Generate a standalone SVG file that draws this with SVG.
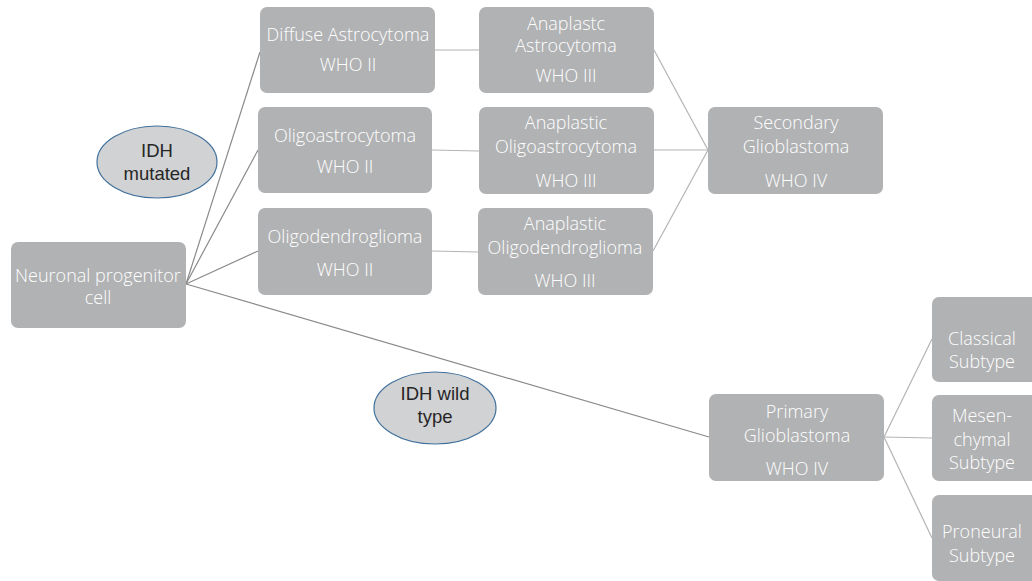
<svg xmlns="http://www.w3.org/2000/svg" width="1032" height="581" viewBox="0 0 1032 581">
<style>
.box{fill:#B1B2B4;}
.t{font-family:"Open Sans","Liberation Sans",sans-serif;font-size:18px;fill:#ffffff;text-anchor:middle;font-weight:300;}
.ell{fill:#D1D2D4;stroke:#41719C;stroke-width:1.2;}
.et{font-family:"Liberation Sans",Arial,sans-serif;font-size:18.5px;fill:#262626;text-anchor:middle;}
.c1{stroke:#8a8a8a;stroke-width:1.2;fill:none;}
.c2{stroke:#B4B4B4;stroke-width:1.2;fill:none;}
</style>
<rect width="1032" height="581" fill="#ffffff"/>
<g id="connectors">
<line class="c1" x1="186" y1="284" x2="260" y2="52"/>
<line class="c1" x1="186" y1="284" x2="258" y2="150"/>
<line class="c1" x1="186" y1="284" x2="258" y2="251"/>
<line class="c1" x1="186" y1="284" x2="709" y2="437"/>
<line class="c2" x1="435" y1="50" x2="479" y2="50"/>
<line class="c2" x1="432" y1="150" x2="479" y2="151"/>
<line class="c2" x1="432" y1="251" x2="478" y2="252"/>
<line class="c2" x1="654" y1="50" x2="708" y2="150"/>
<line class="c2" x1="654" y1="150" x2="708" y2="150"/>
<line class="c2" x1="653" y1="251" x2="708" y2="150"/>
<line class="c2" x1="884" y1="437" x2="932" y2="339"/>
<line class="c2" x1="884" y1="437" x2="932" y2="438"/>
<line class="c2" x1="884" y1="437" x2="932" y2="538"/>
</g>
<g id="idh-mutated">
<ellipse class="ell" cx="157" cy="162" rx="60" ry="36"/>
<text class="et" x="157" y="157">IDH</text>
<text class="et" x="157" y="180">mutated</text>
</g>
<g id="idh-wild">
<ellipse class="ell" cx="435" cy="408" rx="61" ry="36"/>
<text class="et" x="435" y="400">IDH wild</text>
<text class="et" x="435" y="423">type</text>
</g>
<g id="neuronal">
<rect class="box" x="11" y="242" width="175" height="86" rx="7"/>
<text class="t" x="98" y="282">Neuronal progenitor</text>
<text class="t" x="98" y="304">cell</text>
</g>
<g id="diffuse">
<rect class="box" x="260" y="7" width="175" height="86" rx="7"/>
<text class="t" x="348" y="41">Diffuse Astrocytoma</text>
<text class="t" x="348" y="71">WHO II</text>
</g>
<g id="oligoastro">
<rect class="box" x="258" y="107" width="174" height="86" rx="7"/>
<text class="t" x="345" y="142">Oligoastrocytoma</text>
<text class="t" x="345" y="173">WHO II</text>
</g>
<g id="oligodendro">
<rect class="box" x="258" y="208" width="174" height="87" rx="7"/>
<text class="t" x="345" y="243">Oligodendroglioma</text>
<text class="t" x="345" y="276">WHO II</text>
</g>
<g id="anaplastc">
<rect class="box" x="479" y="7" width="175" height="86" rx="7"/>
<text class="t" x="566" y="30">Anaplastc</text>
<text class="t" x="566" y="52">Astrocytoma</text>
<text class="t" x="566" y="82">WHO III</text>
</g>
<g id="anaplastic-oligoastro">
<rect class="box" x="479" y="107" width="175" height="87" rx="7"/>
<text class="t" x="566" y="129">Anaplastic</text>
<text class="t" x="566" y="153">Oligoastrocytoma</text>
<text class="t" x="566" y="187">WHO III</text>
</g>
<g id="anaplastic-oligodendro">
<rect class="box" x="478" y="208" width="175" height="87" rx="7"/>
<text class="t" x="565" y="230">Anaplastic</text>
<text class="t" x="565" y="254">Oligodendroglioma</text>
<text class="t" x="565" y="287">WHO III</text>
</g>
<g id="secondary">
<rect class="box" x="708" y="107" width="175" height="87" rx="7"/>
<text class="t" x="796" y="129">Secondary</text>
<text class="t" x="796" y="153">Glioblastoma</text>
<text class="t" x="796" y="187">WHO IV</text>
</g>
<g id="primary">
<rect class="box" x="709" y="394" width="175" height="87" rx="7"/>
<text class="t" x="797" y="418">Primary</text>
<text class="t" x="797" y="442">Glioblastoma</text>
<text class="t" x="797" y="475">WHO IV</text>
</g>
<g id="classical">
<rect class="box" x="932" y="297" width="107" height="85" rx="7"/>
<text class="t" x="982" y="345">Classical</text>
<text class="t" x="982" y="368">Subtype</text>
</g>
<g id="mesenchymal">
<rect class="box" x="932" y="395" width="107" height="86" rx="7"/>
<text class="t" x="982" y="422">Mesen-</text>
<text class="t" x="982" y="446">chymal</text>
<text class="t" x="982" y="469">Subtype</text>
</g>
<g id="proneural">
<rect class="box" x="932" y="495" width="107" height="86" rx="7"/>
<text class="t" x="982" y="538">Proneural</text>
<text class="t" x="982" y="562">Subtype</text>
</g>
</svg>
